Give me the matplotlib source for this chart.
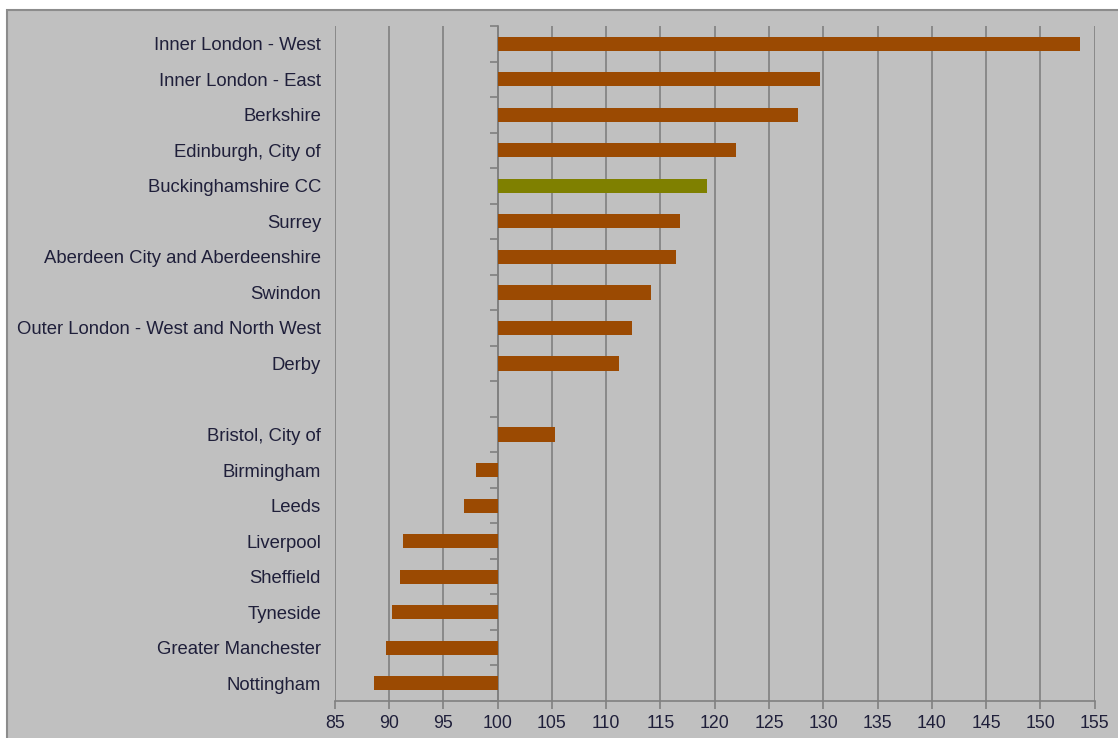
import numpy as np
import matplotlib
matplotlib.use("Agg")
import matplotlib.pyplot as plt
from matplotlib.patches import Rectangle

plt.rcParams['font.family'] = ['Liberation Sans', 'DejaVu Sans']

# data (index relative to 100 baseline)
regions = ["Inner London - West", "Inner London - East", "Berkshire",
           "Edinburgh, City of", "Buckinghamshire CC", "Surrey",
           "Aberdeen City and Aberdeenshire", "Swindon",
           "Outer London - West and North West", "Derby", "",
           "Bristol, City of", "Birmingham", "Leeds", "Liverpool",
           "Sheffield", "Tyneside", "Greater Manchester", "Nottingham"]
values = [153.7, 129.7, 127.7, 122.0, 119.3, 116.8, 116.4, 114.1, 112.4,
          111.2, np.nan, 105.3, 98.0, 96.9, 91.3, 91.0, 90.3, 89.7, 88.6]
highlight = "Buckinghamshire CC"
baseline = 100
xticks = list(range(85, 160, 5))

BAR = '#9b4a02'
HIGHLIGHT = '#7f8000'
BG = '#c0c0c0'
GRID = '#808080'
TEXT = '#1f1f3a'

fig = plt.figure(figsize=(11.18, 7.38), dpi=100, facecolor='white')
# grey panel behind the chart
fig.patches.append(Rectangle((7 / 1118, -0.01), 1.0, 728 / 738 + 0.01,
                             transform=fig.transFigure, facecolor=BG,
                             edgecolor='#8c8c8c', linewidth=1.5, zorder=-10))

ax = fig.add_axes([0.2996, 0.0501, 0.6794, 0.9147])
ax.set_facecolor(BG)

y = np.arange(len(regions))
colors = [HIGHLIGHT if r == highlight else BAR for r in regions]
vals = np.array(values)
ax.barh(y[~np.isnan(vals)], vals[~np.isnan(vals)] - baseline, left=baseline,
        height=0.4, color=[c for c, v in zip(colors, vals) if not np.isnan(v)],
        zorder=3)

ax.set_xlim(85, 155)
ax.set_ylim(len(regions) - 0.5, -0.5)
ax.set_xticks(xticks)
ax.grid(axis='x', color=GRID, linewidth=1.2, zorder=1)
ax.set_axisbelow(True)

ax.set_yticks(y)
ax.set_yticklabels(regions, fontsize=13.3, color=TEXT)
ax.tick_params(axis='y', length=0, pad=10)
ax.tick_params(axis='x', length=6, color=GRID, width=1.2, labelsize=12.8,
               labelcolor=TEXT, pad=4)

for side in ['left', 'right', 'top']:
    ax.spines[side].set_visible(False)
ax.spines['bottom'].set_color(GRID)
ax.spines['bottom'].set_linewidth(1.2)

# category tick marks on the 100 baseline
sec = ax.secondary_yaxis((baseline - 85) / 70)
sec.set_yticks(np.arange(len(regions) + 1) - 0.5)
sec.set_yticklabels([])
sec.tick_params(length=6, color=GRID, width=1.2)
sec.spines['left'].set_color(GRID)
sec.spines['left'].set_linewidth(1.2)

plt.savefig('out.png', dpi=100, facecolor='white')
